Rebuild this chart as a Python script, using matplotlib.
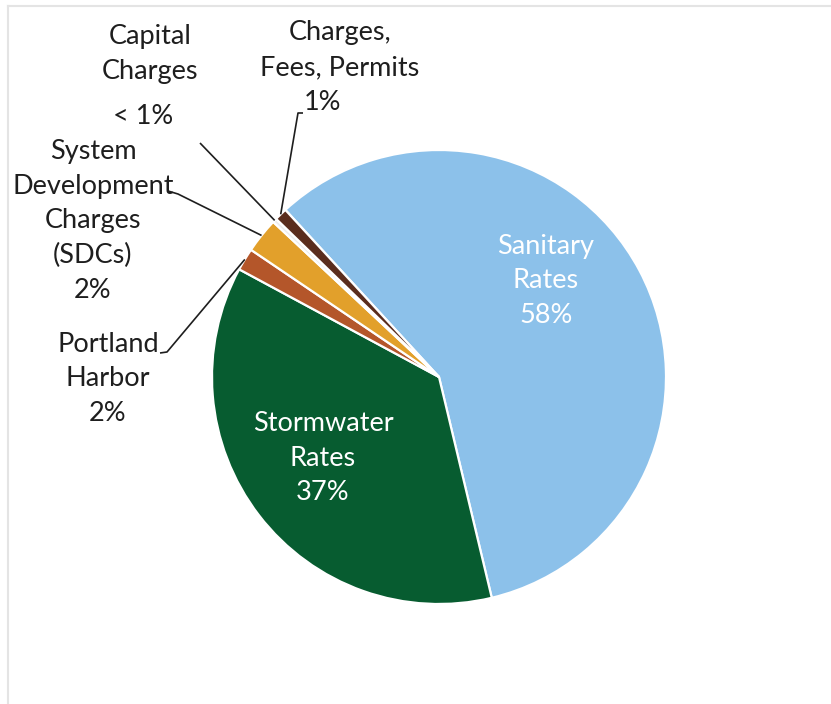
import numpy as np
import matplotlib
matplotlib.use("Agg")
import matplotlib.pyplot as plt
from matplotlib.lines import Line2D

categories = ["Sanitary Rates", "Stormwater Rates", "Portland Harbor",
              "System Development Charges (SDCs)", "Capital Charges",
              "Charges, Fees, Permits"]
values = [58.1, 36.6, 1.6, 2.5, 0.3, 0.9]
pct_labels = ["58%", "37%", "2%", "2%", "< 1%", "1%"]
colors = ["#8CC1EA", "#075C30", "#B4562A", "#E2A02B", "#EDEDED", "#5A2D1D"]

W, H = 831, 704
fig = plt.figure(figsize=(W / 100, H / 100), dpi=100)
ax = fig.add_axes([0, 0, 1, 1])

cx, cy, R = 439, H - 377, 227
start = 132.6
wedges, _ = ax.pie(values, colors=colors, startangle=start, counterclock=False,
                   center=(cx, cy), radius=R, frame=True,
                   wedgeprops=dict(edgecolor="white", linewidth=1.6))
ax.set_xlim(0, W)
ax.set_ylim(0, H)
ax.set_aspect("equal")
ax.axis("off")

font = dict(family=["Lato", "DejaVu Sans"], fontsize=19.5, linespacing=1.49)
tc = "#1e1e1e"

# inside labels
ax.text(546, H - 281, "Sanitary\nRates\n" + pct_labels[0], color="white",
        ha="center", va="center", **font)
ax.text(323, H - 458, "Stormwater\nRates\n" + pct_labels[1], color="white",
        ha="center", va="center", **font)

# outside labels
ax.text(108, H - 379, "Portland\nHarbor\n" + pct_labels[2], color=tc,
        ha="center", va="center", **font)
ax.text(93, H - 221, "System\nDevelopment\nCharges\n(SDCs)\n" + pct_labels[3],
        color=tc, ha="center", va="center", **font)
ax.text(150, H - 54, "Capital\nCharges", color=tc,
        ha="center", va="center", **font)
ax.text(143, H - 116, pct_labels[4], color=tc, ha="center", va="center", **font)
ax.text(340, H - 50, "Charges,\nFees, Permits", color=tc,
        ha="center", va="center", **font)
ax.text(323, H - 102, pct_labels[5], color=tc, ha="center", va="center", **font)

# leader lines from wedge midpoints
def mid_point(w):
    a = np.deg2rad((w.theta1 + w.theta2) / 2)
    return cx + R * np.cos(a), cy + R * np.sin(a)

leaders = {
    2: [(160, H - 353), (167, H - 352)],
    3: [(168, H - 191), (178, H - 194)],
    4: [(200, H - 143)],
    5: [(303, H - 113), (298, H - 113)],
}
for i, pts in leaders.items():
    mx, my = mid_point(wedges[i])
    xs = [p[0] for p in pts] + [mx]
    ys = [p[1] for p in pts] + [my]
    ax.plot(xs, ys, color=tc, lw=1.2, solid_capstyle="butt")

# faint frame lines
fig.add_artist(Line2D([8 / W, 8 / W], [0, 1 - 6 / H], transform=fig.transFigure,
                      color="#e4e4e4", lw=1.5))
fig.add_artist(Line2D([8 / W, 1], [1 - 6 / H, 1 - 6 / H], transform=fig.transFigure,
                      color="#e4e4e4", lw=1.5))

fig.savefig("out.png", dpi=100, facecolor="white")
